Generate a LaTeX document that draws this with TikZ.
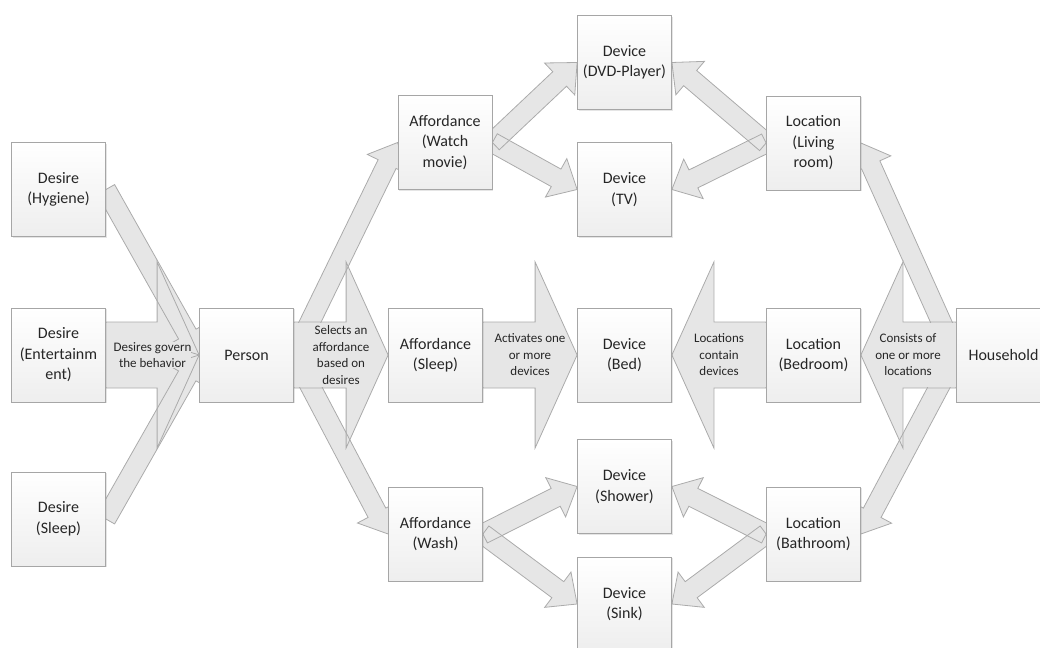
\documentclass[tikz,border=0pt]{standalone}
\usepackage{fontspec}
\setmainfont{Carlito}
\usetikzlibrary{calc,shadows}
\pgfdeclarelayer{background}
\pgfsetlayers{background,main}
\definecolor{boxline}{HTML}{A6A6A6}
\definecolor{boxbottom}{HTML}{EEEEEE}
\definecolor{arrowfill}{HTML}{E6E6E6}
\definecolor{arrowline}{HTML}{ABABAB}
\definecolor{txt}{HTML}{262626}
% #1 style, #2 from, #3 to, #4 shaft half width, #5 head half width, #6 head length
\newcommand{\blockarrow}[6]{%
  \coordinate (ba-h) at ($(#3)!#6!(#2)$);
  \path[#1] ($(#2)!#4!90:(#3)$) -- ($(ba-h)!#4!-90:(#2)$) -- ($(ba-h)!#5!-90:(#2)$)
    -- (#3) -- ($(ba-h)!#5!90:(#2)$) -- ($(ba-h)!#4!90:(#2)$) -- ($(#2)!#4!-90:(#3)$) -- cycle;
}
% opaque cover of a big arrow's shaft (hides thin arrows passing under the label)
\newcommand{\shaftcover}[2]{%
  \coordinate (ba-h) at ($(#2)!42.3pt!(#1)$);
  \fill[arrowfill] ($(#1)!32.4pt!90:(#2)$) -- ($(ba-h)!32.4pt!-90:(#1)$)
    -- ($(ba-h)!32.4pt!90:(#1)$) -- ($(#1)!32.4pt!-90:(#2)$) -- cycle;
}
\newcommand{\thinarrow}[3]{\blockarrow{#1}{#2}{#3}{10pt}{22pt}{24pt}}
\newcommand{\bigarrow}[3]{\blockarrow{#1}{#2}{#3}{33pt}{93pt}{42pt}}
\newcommand{\allarrows}[1]{%
  \thinarrow{#1}{hyg.east}{person.west}
  \thinarrow{#1}{dsl.east}{person.west}
  \thinarrow{#1}{person.east}{watch.west}
  \thinarrow{#1}{person.east}{wash.west}
  \thinarrow{#1}{watch.east}{dvd.west}
  \thinarrow{#1}{watch.east}{tv.west}
  \thinarrow{#1}{living.west}{dvd.east}
  \thinarrow{#1}{living.west}{tv.east}
  \thinarrow{#1}{household.west}{living.east}
  \thinarrow{#1}{household.west}{bathroom.east}
  \thinarrow{#1}{wash.east}{shower.west}
  \thinarrow{#1}{wash.east}{sink.west}
  \thinarrow{#1}{bathroom.west}{shower.east}
  \thinarrow{#1}{bathroom.west}{sink.east}
  \bigarrow{#1}{ent.east}{person.west}
  \bigarrow{#1}{person.east}{asleep.west}
  \bigarrow{#1}{asleep.east}{bed.west}
  \bigarrow{#1}{bedroom.west}{bed.east}
  \bigarrow{#1}{household.west}{bedroom.east}
}
\begin{document}
\begin{tikzpicture}[x=1pt,y=-1pt,
  entity/.style={draw=boxline, line width=0.8pt, top color=white, bottom color=boxbottom,
    minimum width=94pt, minimum height=94pt, inner sep=2pt, align=center, text=txt,
    font=\fontsize{16}{20.5}\selectfont,
    drop shadow={shadow xshift=1.3pt, shadow yshift=-1.3pt, opacity=0.25, fill=black!40}},
  lbl/.style={align=center, text=txt, font=\fontsize{13}{16.5}\selectfont, inner sep=0pt, fill=arrowfill},
  afill/.style={fill=arrowfill},
  aline/.style={draw=arrowline, line width=0.8pt, line join=miter}
]
\useasboundingbox (0,0) rectangle (1040,647);

% boxes
\node[entity] (hyg) at (58.5,189.5) {Desire\\(Hygiene)};
\node[entity] (ent) at (58.5,355) {Desire\\(Entertainm\\ent)};
\node[entity] (dsl) at (58.5,519) {Desire\\(Sleep)};
\node[entity] (person) at (246.5,355) {Person};
\node[entity] (watch) at (445,142.5) {Affordance\\(Watch\\movie)};
\node[entity] (asleep) at (435.5,355) {Affordance\\(Sleep)};
\node[entity] (wash) at (435.5,534) {Affordance\\(Wash)};
\node[entity] (dvd) at (624.5,62.5) {Device\\(DVD-Player)};
\node[entity] (tv) at (624.5,189.5) {Device\\(TV)};
\node[entity] (bed) at (624.5,355) {Device\\(Bed)};
\node[entity] (shower) at (624.5,486.5) {Device\\(Shower)};
\node[entity] (sink) at (624.5,604) {Device\\(Sink)};
\node[entity] (living) at (813.5,143) {Location\\(Living\\room)};
\node[entity] (bedroom) at (813.5,355) {Location\\(Bedroom)};
\node[entity] (bathroom) at (813.5,534) {Location\\(Bathroom)};
\node[entity] (household) at (1003.5,355) {Household};

% arrow labels
\node[lbl] (lgov) at (152.5,355) {Desires govern\\the behavior};
\node[lbl] (lsel) at (341,355) {Selects an\\affordance\\based on\\desires};
\node[lbl] (lact) at (530,355) {Activates one\\or more\\devices};
\node[lbl] (lloc) at (719,355) {Locations\\contain\\devices};
\node[lbl] (lcons) at (908,355) {Consists of\\one or more\\locations};

\begin{pgfonlayer}{background}
  \allarrows{afill}
  \allarrows{aline}
  \shaftcover{ent.east}{person.west}
  \shaftcover{person.east}{asleep.west}
  \shaftcover{asleep.east}{bed.west}
  \shaftcover{bedroom.west}{bed.east}
  \shaftcover{household.west}{bedroom.east}
\end{pgfonlayer}
\end{tikzpicture}
\end{document}
